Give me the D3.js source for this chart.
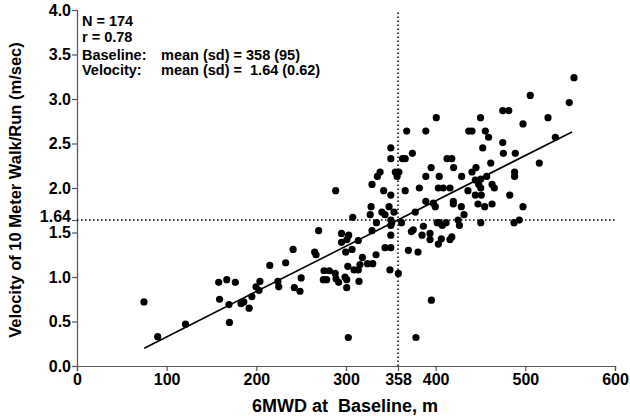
<!DOCTYPE html>
<html>
<head>
<meta charset="utf-8">
<script src="https://cdn.jsdelivr.net/npm/d3@7"></script>
<style>
  html, body { margin: 0; padding: 0; background: #fff; }
  svg text { font-family: "Liberation Sans", Arial, sans-serif; font-weight: bold; }
</style>
</head>
<body>
<svg id="chart" width="630" height="416"></svg>
<script>
// ---- data ----
const walkDistance = [
  74.7, 90, 121, 158, 167, 176.6, 159, 169.5, 170, 183, 186, 192, 195, 199.6, 204, 203, 215,
  367.7, 350, 350, 363, 366, 338, 335, 355, 359, 357, 288.5, 329, 342, 350, 366, 328, 348, 327,
  340, 343.5, 353.5, 307.5, 334, 350, 351, 350, 362, 329, 269.5, 295, 303, 295, 301, 313.7, 350,
  265, 266.6, 241, 299.7, 306.7, 343.5, 350, 333.5, 318.3, 315.6, 324, 329.8, 302, 309, 313.7,
  275.5, 281.4, 349, 358.4, 232.7, 274.7, 278.4, 288, 288.9, 291.8, 298.9, 300.8, 300.8, 314.5,
  224, 225, 242.4, 248.7, 250, 302.6, 369.6,
  389, 400.7, 374, 381.8, 389, 395, 404, 412.7, 418, 420, 429, 403, 408.5, 416, 436.9, 440.5,
  450, 455.4, 459, 452.5, 440.5, 445, 461.4, 474.8, 481.5, 474.8, 475.5, 488.8, 497.4, 505.5,
  525.3, 533.5, 549, 515.6, 488, 488, 456.9, 444.2, 450.3, 448, 450.3, 436, 462.9, 465.4, 444.2,
  450.9, 482.6, 389, 397.4, 399.6, 419.7, 419.7, 428.6, 447.2, 454.7, 462.9, 497.4, 377.3, 401.7,
  404, 407.4, 411.6, 425, 426.5, 431.6, 450.3, 487.4, 493.3, 386.3, 372.9, 375, 384.8, 393.7,
  393.7, 406.3, 403, 416, 418, 380.3,
  554.3, 395.2, 378
];
const velocity = [
  0.72, 0.33, 0.47, 0.94, 0.97, 0.94, 0.75, 0.69, 0.49, 0.70, 0.72, 0.65, 0.78, 0.89, 0.95, 0.85, 1.13,
  2.64, 2.45, 2.33, 2.33, 2.33, 2.18, 2.13, 2.18, 2.18, 2.13, 1.97, 2.04, 1.97, 1.92, 1.97, 1.79, 1.79, 1.70,
  1.73, 1.70, 1.73, 1.67, 1.61, 1.64, 1.61, 1.58, 1.61, 1.52, 1.52, 1.49, 1.47, 1.39, 1.42, 1.41, 1.47,
  1.28, 1.25, 1.31, 1.28, 1.31, 1.33, 1.33, 1.25, 1.22, 1.14, 1.15, 1.15, 1.12, 1.08, 1.08,
  1.07, 1.07, 1.08, 1.04, 1.16, 0.97, 0.97, 1.04, 0.98, 0.94, 1.00, 0.97, 0.88, 0.95,
  0.95, 0.89, 0.88, 0.84, 0.99, 0.32, 1.30,
  2.64, 2.79, 2.39, 2.00, 2.13, 2.23, 2.13, 2.33, 2.33, 2.23, 2.13, 2.00, 2.00, 2.00, 2.64, 2.64,
  2.79, 2.64, 2.57, 2.45, 2.18, 2.23, 2.28, 2.87, 2.87, 2.51, 2.39, 2.39, 2.72, 3.04,
  2.79, 2.57, 2.96, 2.28, 2.18, 2.13, 2.13, 2.09, 2.10, 2.04, 2.00, 1.97, 2.04, 2.00, 1.92,
  1.92, 1.92, 1.85, 1.83, 1.79, 1.85, 1.82, 1.79, 1.82, 1.79, 1.82, 1.79, 1.73, 1.61,
  1.61, 1.58, 1.61, 1.64, 1.58, 1.70, 1.61, 1.61, 1.64, 1.57, 1.51, 1.53, 1.47, 1.49,
  1.42, 1.43, 1.37, 1.42, 1.45, 1.28,
  3.24, 0.74, 0.32
];
const fitX = [75, 552];
const fitY = [0.20, 2.63];
const meanX = 358;
const meanY = 1.64;
const xTicks = [0, 100, 200, 300, 358, 400, 500, 600];
const yTicks = [0, 0.5, 1.0, 1.5, 1.64, 2.0, 2.5, 3.0, 3.5, 4.0];
const xTitle = "6MWD at\u00a0 Baseline, m";
const yTitle = "Velocity of 10 Meter Walk/Run (m/sec)";
const notesLeft = ["N = 174", "r = 0.78", "Baseline:", "Velocity:"];
const notesRight = ["", "", "mean (sd) = 358 (95)", "mean (sd) =\u00a0 1.64 (0.62)"];

// ---- layout ----
const W = 630, H = 416;
const margin = { left: 77, right: 15, top: 10, bottom: 50 };
const svg = d3.select("#chart");

const x = d3.scaleLinear().domain([0, 600]).range([margin.left, W - margin.right]);
const y = d3.scaleLinear().domain([0, 4]).range([H - margin.bottom, margin.top]);

const axisColor = "#555";

// x axis
const gx = svg.append("g")
  .attr("transform", `translate(0,${H - margin.bottom})`)
  .call(d3.axisBottom(x).tickValues(xTicks).tickFormat(d3.format("d")).tickSize(5).tickPadding(3));
gx.select(".domain").attr("stroke", axisColor).attr("stroke-width", 1.2);
gx.selectAll(".tick line").attr("stroke", axisColor).attr("stroke-width", 1.2);
gx.selectAll(".tick text").attr("fill", "#000").style("font-size", "16px");

// y axis
const gy = svg.append("g")
  .attr("transform", `translate(${margin.left},0)`)
  .call(d3.axisLeft(y).tickValues(yTicks)
    .tickFormat(d => d === 1.64 ? "1.64" : d3.format(".1f")(d))
    .tickSize(5).tickPadding(1));
gy.select(".domain").attr("stroke", axisColor).attr("stroke-width", 1.2);
gy.selectAll(".tick line").attr("stroke", axisColor).attr("stroke-width", 1.2);
gy.selectAll(".tick text").attr("fill", "#000").style("font-size", "16px");
gy.selectAll(".tick").filter(d => d === 1.64).select("text").attr("dy", "0.1em");

// reference dotted lines
svg.append("line")
  .attr("x1", x(meanX)).attr("x2", x(meanX))
  .attr("y1", y(0)).attr("y2", y(4))
  .attr("stroke", "#000").attr("stroke-width", 1.5).attr("stroke-dasharray", "1.5,2.5");
svg.append("line")
  .attr("x1", x(0)).attr("x2", x(600))
  .attr("y1", y(meanY)).attr("y2", y(meanY))
  .attr("stroke", "#000").attr("stroke-width", 1.5).attr("stroke-dasharray", "1.5,2.5");

// regression line
svg.append("line")
  .attr("x1", x(fitX[0])).attr("y1", y(fitY[0]))
  .attr("x2", x(fitX[1])).attr("y2", y(fitY[1]))
  .attr("stroke", "#000").attr("stroke-width", 1.6);

// points
svg.append("g").selectAll("circle")
  .data(d3.range(walkDistance.length))
  .join("circle")
  .attr("cx", i => x(walkDistance[i]))
  .attr("cy", i => y(velocity[i]))
  .attr("r", 3.6)
  .attr("fill", "#000");

// titles
svg.append("text")
  .attr("x", 345).attr("y", 412)
  .attr("text-anchor", "middle")
  .style("font-size", "18px")
  .text(xTitle);
svg.append("text")
  .attr("transform", `translate(21,190) rotate(-90)`)
  .attr("text-anchor", "middle")
  .style("font-size", "16.5px")
  .text(yTitle);

// annotation
const noteY = [26, 42, 60, 75];
notesLeft.forEach((t, i) => {
  svg.append("text").attr("x", 82).attr("y", noteY[i]).style("font-size", "14.5px").text(t);
});
notesRight.forEach((t, i) => {
  if (t) svg.append("text").attr("x", 161).attr("y", noteY[i]).style("font-size", "14.5px").text(t);
});
</script>
</body>
</html>
